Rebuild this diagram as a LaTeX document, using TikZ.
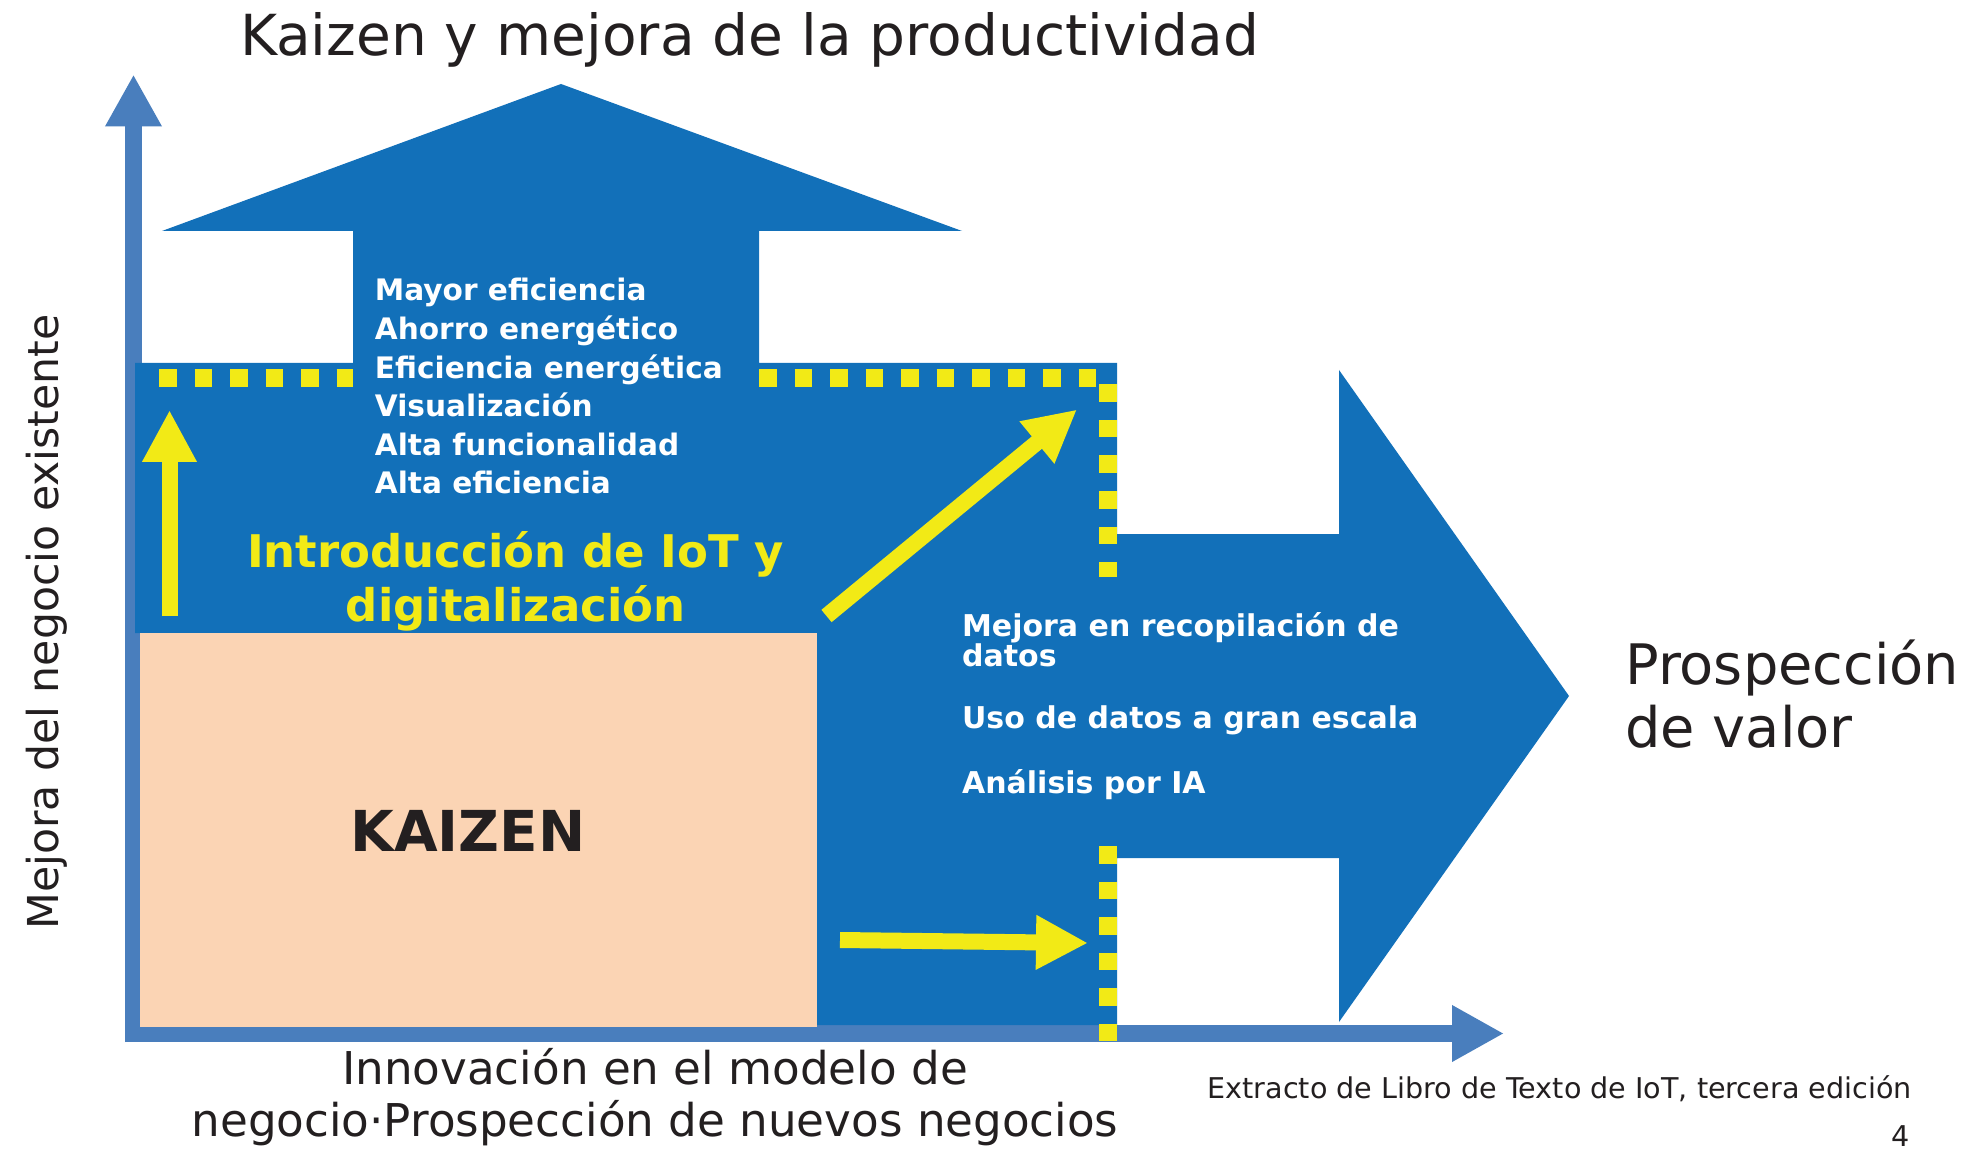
\documentclass[tikz,border=0pt]{standalone}
\usepackage{fontspec}
\setmainfont{DejaVu Sans}
\usetikzlibrary{arrows.meta}
\definecolor{iotblue}{RGB}{18,112,185}
\definecolor{axisblue}{RGB}{73,126,189}
\definecolor{iotyellow}{RGB}{242,234,22}
\definecolor{kaizenfill}{RGB}{251,212,180}
\definecolor{inkdark}{RGB}{35,31,32}

\begin{document}
\begin{tikzpicture}[
 x=0.5pt, y=-0.5pt,
 axisarrow/.style={line width=8.5pt, draw=axisblue, -{Triangle[length=26pt,width=26.5pt]}},
 yarrow/.style={line width=8pt, draw=iotyellow, -{Triangle[length=26pt,width=25.5pt]}},
 limitline/.style={draw=iotyellow, line width=9pt, dash pattern=on 8.75pt off 9pt},
 darktext/.style={inner sep=0pt, text=inkdark},
 whitelist/.style={inner sep=0pt, text=white, align=left}
 ]
 \fill[white] (0,0) rectangle (1984,1149);
 % Axes
 \coordinate (origin) at (133.5,1042);
 \coordinate (ytop) at (133.5,74.5);
 \coordinate (xstart) at (125,1033.5);
 \coordinate (xend) at (1504,1033.5);
 \draw[axisarrow] (origin) -- (ytop);
 \draw[axisarrow] (xstart) -- (xend);
 % Blue area with the two big arrows
 \fill[iotblue] (135,363) -- (353,363) -- (353,231) -- (162,231) -- (561,84)
   -- (962,231) -- (759,231) -- (759,363) -- (1117,363) -- (1117,534)
   -- (1339,534) -- (1339,370) -- (1569,696) -- (1339,1022) -- (1339,858)
   -- (1117,858) -- (1117,1025) -- (817,1025) -- (817,633) -- (135,633) -- cycle;
 \fill[kaizenfill] (140,633) rectangle (817,1027);
 % Dotted limit
 \draw[limitline] (159,378) -- (353,378);
 \draw[limitline] (759,378) -- (1107.5,378) -- (1107.5,577);
 \draw[limitline] (1108,846) -- (1108,1041);
 % Yellow arrows
 \coordinate (upfrom) at (169.5,616);
 \coordinate (upto) at (169.5,410);
 \coordinate (diagfrom) at (826.5,616);
 \coordinate (diagto) at (1077,409.5);
 \coordinate (flatfrom) at (840,940);
 \coordinate (flatto) at (1088,943);
 \draw[yarrow] (upfrom) -- (upto);
 \draw[yarrow] (diagfrom) -- (diagto);
 \draw[yarrow] (flatfrom) -- (flatto);
 % Texts (multi-line nodes sit on their last baseline)
 \node[darktext, anchor=base, font=\fontsize{28.3}{34}\selectfont] (title) at (749.5,56) {Kaizen y mejora de la productividad};
 \node[darktext, anchor=base, rotate=90, font=\fontsize{21.3}{26}\selectfont] (ylabel) at (58,622) {Mejora del negocio existente};
 \node[darktext, anchor=base, align=center, font=\fontsize{22.6}{26}\selectfont] (xlabel) at (655,1136.5) {Innovación en el modelo de\\negocio·Prospección de nuevos negocios};
 \node[darktext, anchor=base west, align=left, font=\fontsize{27.9}{31.5}\selectfont] (value) at (1625,747) {Prospección\\de valor};
 \node[darktext, anchor=base east, font=\fontsize{14.3}{17}\selectfont] (source) at (1912,1098) {Extracto de Libro de Texto de IoT, tercera edición};
 \node[darktext, anchor=base east, font=\fontsize{14.3}{17}\selectfont] (page) at (1910,1146) {4};
 \node[whitelist, anchor=base west, font=\bfseries\fontsize{14.8}{19.3}\selectfont] (gains) at (374.5,494) {Mayor eficiencia\\Ahorro energético\\Eficiencia energética\\Visualización\\Alta funcionalidad\\Alta eficiencia};
 \node[anchor=base, align=center, inner sep=0pt, text=iotyellow, font=\bfseries\fontsize{22.5}{27}\selectfont] (iot) at (515.6,621) {Introducción de IoT y\\digitalización};
 \node[whitelist, anchor=base west, font=\bfseries\fontsize{15}{15}\selectfont] (data) at (961.7,793) {Mejora en recopilación de\\datos\\[16pt]Uso de datos a gran escala\\[16pt]Análisis por IA};
 \node[darktext, anchor=base, font=\bfseries\fontsize{28.2}{34}\selectfont] (kaizen) at (468,851) {KAIZEN};
\end{tikzpicture}
\end{document}
